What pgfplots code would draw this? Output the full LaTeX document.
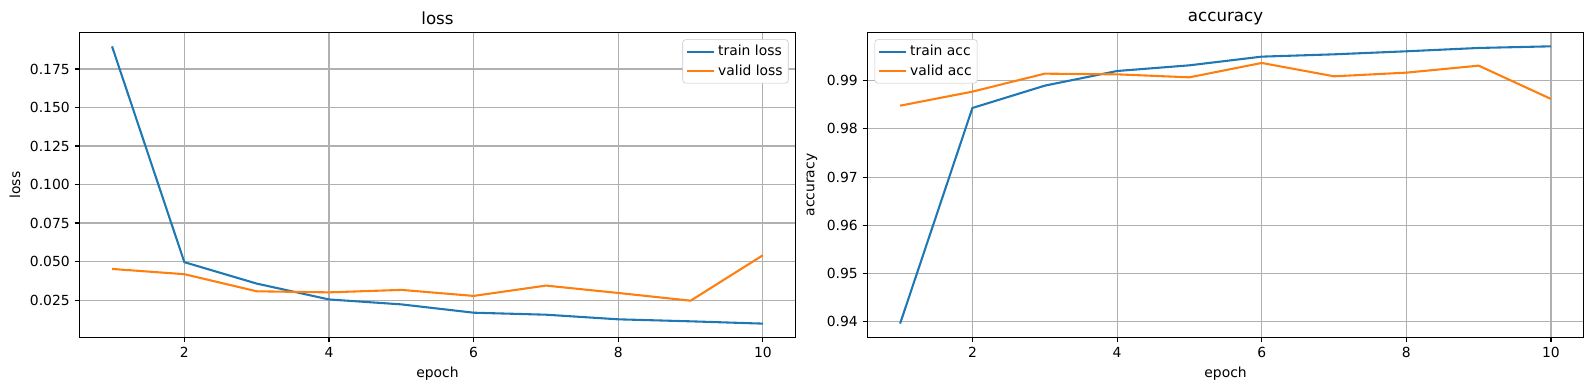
\documentclass[border=0pt]{standalone}
\usepackage{pgfplots}
\pgfplotsset{compat=1.18}
\usepackage{fontspec}
\setmainfont{DejaVu Sans}
\definecolor{tabblue}{HTML}{1F77B4}
\definecolor{taborange}{HTML}{FF7F0E}
\definecolor{gridgray}{HTML}{B0B0B0}
\pgfplotsset{
  mpl/.style={
    scale only axis,
    width=515.5pt, height=219.6pt,
    xmin=0.55, xmax=10.45,
    xtick={2,4,6,8,10},
    tick pos=left,
    tick align=outside,
    major tick length=3.5pt,
    every tick/.style={line width=0.8pt, black},
    axis line style={line width=0.8pt},
    grid=major,
    major grid style={line width=0.8pt, color=gridgray},
    /pgf/number format/assume math mode=true,
    tick label style={font=\fontsize{10}{12}\selectfont},
    label style={font=\fontsize{10}{12}\selectfont},
    title style={font=\fontsize{12}{14}\selectfont, yshift=-4pt},
    xlabel={epoch},
    legend cell align=left,
    legend style={font=\fontsize{10}{12}\selectfont, draw=gridgray!70, rounded corners=2pt, inner sep=2pt, row sep=1pt},
    legend image code/.code={\draw[#1] (0pt,0pt) -- (20pt,0pt);},
  }
}
\begin{document}
\begin{tikzpicture}
\useasboundingbox (-57.24pt,-37.8pt) rectangle (1086.84pt,243pt);
\begin{axis}[mpl, at={(0,0)}, anchor=south west,
  title={loss}, ylabel={loss},
  ymin=0.0007, ymax=0.1987,
  ytick={0.025,0.05,0.075,0.1,0.125,0.15,0.175},
  yticklabel style={/pgf/number format/fixed, /pgf/number format/fixed zerofill, /pgf/number format/precision=3},
  scaled y ticks=false,
  legend style={at={(1,1)}, anchor=north east, xshift=-5pt, yshift=-5pt},
]
\addplot[tabblue, line width=1.5pt] coordinates {(1,0.1897) (2,0.0496) (3,0.0357) (4,0.0254) (5,0.0222) (6,0.0168) (7,0.0155) (8,0.0125) (9,0.0112) (10,0.0097)};
\addlegendentry{train loss}
\addplot[taborange, line width=1.5pt] coordinates {(1,0.0452) (2,0.0418) (3,0.0307) (4,0.0300) (5,0.0316) (6,0.0277) (7,0.0344) (8,0.0296) (9,0.0246) (10,0.0541)};
\addlegendentry{valid loss}
\end{axis}
\begin{axis}[mpl, at={(567.4pt,0)}, anchor=south west,
  title={accuracy}, ylabel={accuracy},
  ymin=0.93672, ymax=0.99999,
  ytick={0.94,0.95,0.96,0.97,0.98,0.99},
  yticklabel style={/pgf/number format/fixed, /pgf/number format/fixed zerofill, /pgf/number format/precision=2},
  scaled y ticks=false,
  legend style={at={(0,1)}, anchor=north west, xshift=5pt, yshift=-5pt},
]
\addplot[tabblue, line width=1.5pt] coordinates {(1,0.9396) (2,0.98433) (3,0.98896) (4,0.9920) (5,0.99318) (6,0.99498) (7,0.99546) (8,0.99609) (9,0.99678) (10,0.99712)};
\addlegendentry{train acc}
\addplot[taborange, line width=1.5pt] coordinates {(1,0.98481) (2,0.98772) (3,0.99145) (4,0.99131) (5,0.99069) (6,0.99367) (7,0.9909) (8,0.99166) (9,0.99311) (10,0.9862)};
\addlegendentry{valid acc}
\end{axis}
\end{tikzpicture}
\end{document}
